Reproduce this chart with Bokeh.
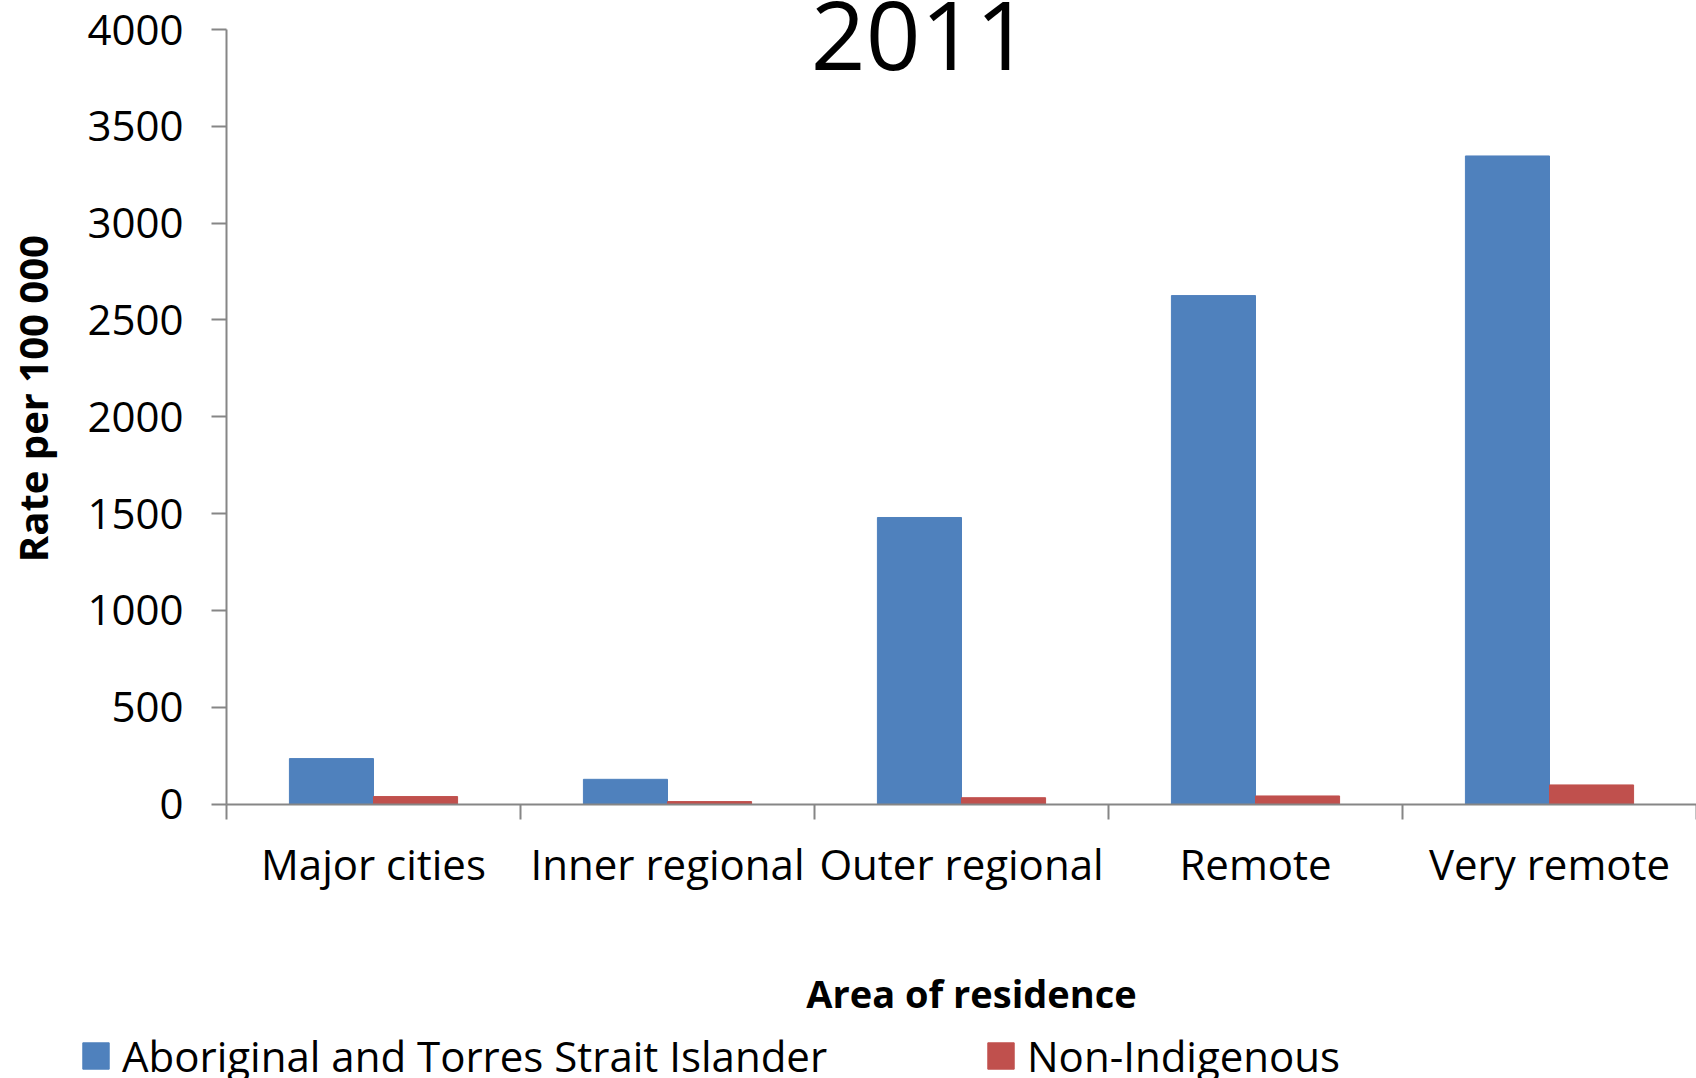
from bokeh.plotting import figure
from bokeh.models import Range1d, FixedTicker, Label, Legend, LegendItem
from bokeh.embed import file_html
from bokeh.resources import INLINE
import numpy as np

title_text = "2011"
categories = ["Major cities", "Inner regional", "Outer regional", "Remote", "Very remote"]
series_names = ["Aboriginal and Torres Strait Islander", "Non-Indigenous"]
indigenous = [235, 128, 1480, 2626, 3347]
non_indigenous = [39, 13, 33, 42, 99]
y_ticks = [0, 500, 1000, 1500, 2000, 2500, 3000, 3500, 4000]
y_title = "Rate per 100 000"
x_title = "Area of residence"

FONT = "Open Sans"
BLUE = "#4F81BD"
RED = "#C0504D"
AXIS = "#868686"

W, H = 1696, 1078
# frame covers the whole canvas; axes are pinned at 0 via fixed_location
PX_PER_CAT = 294.0
PX_PER_UNIT = 774.6 / 4000.0
X0, Y0 = 226.0, 803.6  # canvas pixel of the data origin
x_start, x_end = -X0 / PX_PER_CAT, (W - X0) / PX_PER_CAT
y_end, y_start = Y0 / PX_PER_UNIT, -(H - Y0) / PX_PER_UNIT

p = figure(width=W, height=H, output_backend="svg", toolbar_location=None,
           x_range=Range1d(x_start, x_end), y_range=Range1d(y_start, y_end),
           min_border_left=0, min_border_right=0, min_border_top=0, min_border_bottom=0)
p.outline_line_color = None
p.xgrid.visible = False
p.ygrid.visible = False

idx = np.arange(len(categories))
bw = 0.286
r1 = p.vbar(x=idx + 0.5 - bw / 2, top=indigenous, width=bw, fill_color=BLUE, line_color=BLUE)
r2 = p.vbar(x=idx + 0.5 + bw / 2, top=non_indigenous, width=bw, fill_color=RED, line_color=RED)

# y axis
ya = p.yaxis[0]
ya.fixed_location = 0
ya.bounds = (0, 4000)
ya.ticker = FixedTicker(ticks=y_ticks)
ya.axis_line_color = AXIS
ya.axis_line_width = 2
ya.major_tick_line_color = AXIS
ya.major_tick_line_width = 2
ya.major_tick_in = 0
ya.major_tick_out = 15
ya.minor_tick_line_color = None
ya.major_label_text_font = FONT
ya.major_label_text_font_size = "42px"
ya.major_label_text_color = "black"
ya.major_label_standoff = 28

# x axis: labels at centers, ticks at boundaries
xa = p.xaxis[0]
xa.fixed_location = 0
xa.bounds = (0, len(categories))
xa.ticker = FixedTicker(ticks=list(idx + 0.5), minor_ticks=list(range(len(categories) + 1)))
xa.major_label_overrides = {float(i + 0.5): c for i, c in enumerate(categories)}
xa.axis_line_color = AXIS
xa.axis_line_width = 2
xa.major_tick_line_color = None
xa.major_tick_in = 0
xa.major_tick_out = 15
xa.minor_tick_line_color = AXIS
xa.minor_tick_line_width = 2
xa.minor_tick_in = 0
xa.minor_tick_out = 15
xa.major_label_text_font = FONT
xa.major_label_text_font_size = "42px"
xa.major_label_text_color = "black"
xa.major_label_standoff = 16

# title and axis titles
p.add_layout(Label(x=2.361, y=3968, text=title_text, text_font=FONT, text_font_size="96px",
                   text_align="center", text_baseline="middle", text_color="black"))
p.add_layout(Label(x=-0.660, y=2094, text=y_title, text_font=FONT, text_font_size="40px",
                   text_font_style="bold", angle=np.pi / 2, text_align="center",
                   text_baseline="middle", text_color="black"))
p.add_layout(Label(x=2.534, y=-978, text=x_title, text_font=FONT, text_font_size="38px",
                   text_font_style="bold", text_align="center", text_baseline="middle",
                   text_color="black"))

# legends
def make_legend(name, r, loc):
    return Legend(items=[LegendItem(label=name, renderers=[r])], location=loc,
                  orientation="horizontal", glyph_width=33, glyph_height=33,
                  label_standoff=10, padding=0, margin=0, spacing=0,
                  border_line_color=None, background_fill_alpha=0,
                  label_text_font=FONT, label_text_font_size="42px",
                  label_text_color="black", label_height=26)

p.add_layout(make_legend(series_names[0], r1, (79, -6)))
p.add_layout(make_legend(series_names[1], r2, (984, -6)))

open("out.html", "w").write(file_html(p, INLINE))
